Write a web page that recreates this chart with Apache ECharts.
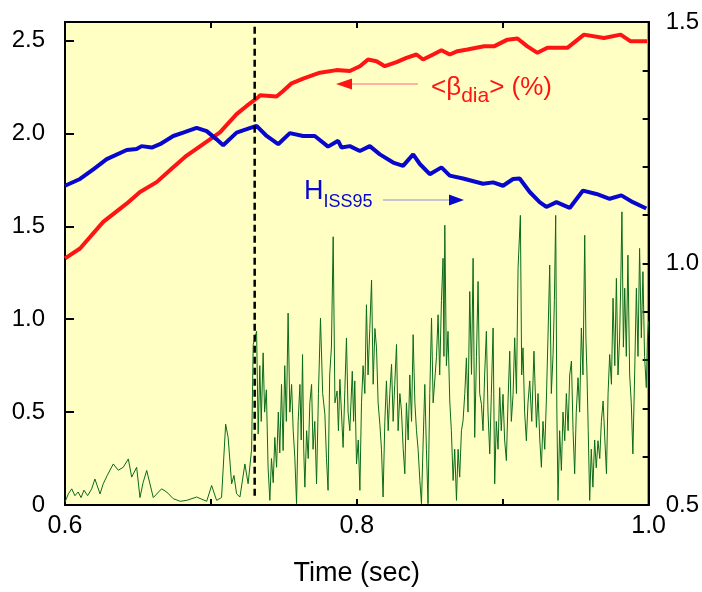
<!DOCTYPE html>
<html><head><meta charset="utf-8">
<script src="https://cdn.jsdelivr.net/npm/echarts@6/dist/echarts.min.js"></script>
<style>html,body{margin:0;padding:0;background:#fff}#c{width:702px;height:592px}</style>
</head><body><div id="c"></div>
<script>
// ---- data ----
const xTicks = [0.6, 0.8, 1.0];
const leftTicks = [0, 0.5, 1.0, 1.5, 2.0, 2.5];
const rightTicks = [0.5, 1.0, 1.5];

const betaT = [0.600,0.6103,0.6262,0.6422,0.6514,0.6628,0.6742,0.6834,0.6947,0.7062,0.7176,0.7245,0.7324,0.7336,0.745,0.7495,0.7553,0.7632,0.7747,0.7861,0.7952,0.8021,0.8077,0.8135,0.8192,0.8272,0.8340,0.8409,0.8454,0.8523,0.8580,0.8637,0.8690,0.8758,0.8872,0.8940,0.9032,0.9101,0.9169,0.9238,0.9306,0.9443,0.9557,0.9694,0.9808,0.9877,0.999];
const betaV = [1.328,1.381,1.524,1.622,1.685,1.738,1.818,1.881,1.943,2.006,2.104,2.148,2.195,2.206,2.199,2.229,2.270,2.295,2.327,2.341,2.336,2.362,2.398,2.389,2.362,2.384,2.407,2.425,2.398,2.425,2.448,2.425,2.443,2.452,2.469,2.469,2.505,2.511,2.469,2.434,2.461,2.461,2.532,2.514,2.532,2.496,2.496];

const hT = [0.600,0.6103,0.6194,0.6286,0.6423,0.6491,0.6525,0.6594,0.6651,0.6742,0.6810,0.6902,0.6971,0.7039,0.7084,0.7176,0.7245,0.7313,0.7382,0.7461,0.7541,0.7632,0.7712,0.7803,0.7872,0.7895,0.7952,0.8021,0.8089,0.8158,0.8249,0.8317,0.8386,0.8432,0.8500,0.8580,0.8637,0.8728,0.8865,0.8934,0.9002,0.9071,0.9116,0.9185,0.9253,0.9299,0.9368,0.9459,0.9550,0.9642,0.9733,0.9813,0.9892,0.9984];
const hV = [1.161,1.175,1.195,1.216,1.235,1.237,1.243,1.240,1.247,1.264,1.271,1.281,1.274,1.257,1.245,1.271,1.278,1.285,1.264,1.247,1.270,1.264,1.264,1.242,1.254,1.240,1.243,1.233,1.243,1.226,1.209,1.202,1.226,1.206,1.185,1.199,1.182,1.176,1.165,1.168,1.161,1.175,1.176,1.148,1.127,1.117,1.127,1.115,1.151,1.144,1.134,1.141,1.127,1.114];

const gT = [0.600,0.6023,0.6046,0.6068,0.609,0.611,0.613,0.6155,0.6183,0.6205,0.624,0.6262,0.629,0.6331,0.6365,0.6399,0.6434,0.6457,0.6491,0.6514,0.6535,0.656,0.6605,0.6662,0.6697,0.6742,0.679,0.6834,0.6902,0.6971,0.7005,0.7039,0.7073,0.7101,0.7118,0.7142,0.7158,0.7176,0.7199,0.7233,0.7255,0.7279,0.729,0.7313,
0.7324,0.7335,0.7345,0.7358,0.7368,0.7380,0.7392,0.7404,0.7415,0.7427,0.7438,0.7450,0.7462,0.7472,0.7484,0.7495,0.7506,0.7517,0.7529,0.7541,0.7553,0.7564,0.7575,0.7587,0.7598,0.7610,0.7619,0.7628,0.7636,0.7644,0.7656,0.7667,0.7678,0.7690,0.7700,0.7712,0.7724,0.7737,0.7751,0.7766,0.7781,0.7792,0.7803,0.7814,0.7826,0.7838,0.7850,0.7865,0.7874,0.7884,0.7906,0.7918,0.7929,0.7940,0.7952,0.7969,0.7978,0.7986,0.7998,0.8010,0.8021,0.8032,0.8043,0.8055,0.8066,0.8077,0.8089,0.8101,0.8112,0.8124,0.8135,0.8146,0.8158,0.8169,0.8180,0.8192,0.8203,0.8215,0.8226,0.8238,0.8249,0.8260,0.8272,0.8283,0.8295,0.8306,0.8318,0.8329,0.8340,0.8352,0.8363,0.8375,0.8386,0.8398,0.8409,0.8420,0.8432,0.8443,0.8455,0.8466,0.8477,0.8488,0.8500,0.8512,0.8523,0.8534,0.8546,0.8557,0.8568,0.8580,0.8591,0.8597,0.8603,0.8614,0.8625,
0.8637,0.8648,0.8660,0.8671,0.8683,0.8694,0.8705,0.8717,0.8728,0.8740,0.8751,0.8762,0.8774,0.8786,0.8797,0.8808,0.8820,0.8831,0.8842,0.8854,0.8865,0.8876,0.8888,0.8899,0.8911,0.8922,0.8934,0.8945,0.8956,0.8968,0.8979,0.8990,0.9002,0.9013,0.9025,0.9036,0.9048,0.9059,0.9071,0.9082,0.9094,0.9105,0.9121,0.9130,0.9139,0.9150,0.9162,0.9173,0.9185,0.9199,0.9214,0.9231,0.9242,0.9254,0.9265,0.9276,0.9288,0.9299,0.9310,0.9322,0.9333,0.9345,0.9354,0.9363,0.9371,0.9379,0.9390,0.9402,0.9413,0.9425,0.9436,0.9448,0.9459,0.9471,0.9482,0.9493,0.9504,0.9516,0.9527,0.9539,0.9550,0.9562,0.9570,0.9577,0.9586,0.9596,0.9607,0.9618,0.9630,0.9641,0.9653,0.9665,0.9676,0.9688,0.9700,0.9711,0.9722,0.9733,0.9745,0.9756,0.9768,0.9779,0.9790,0.9801,0.9809,0.9817,0.9827,0.9836,0.9847,0.9858,0.9870,0.9881,0.9892,0.9904,0.9916,0.9927,0.9938,0.9950,0.9961,0.9972,0.9984,0.9992,1.000];
const gV = [0.016,0.06,0.087,0.05,0.07,0.04,0.08,0.05,0.087,0.14,0.06,0.114,0.16,0.221,0.187,0.203,0.248,0.15,0.203,0.04,0.12,0.186,0.04,0.087,0.07,0.034,0.02,0.025,0.043,0.02,0.105,0.025,0.04,0.435,0.364,0.114,0.159,0.06,0.043,0.221,0.114,0.301,0.864,0.935,
0.382,0.75,0.45,0.819,0.50,0.62,0.20,0.025,0.25,0.12,0.364,0.203,0.50,0.28,0.649,0.293,0.75,0.45,1.033,0.50,0.649,0.40,0.257,0.007,0.45,0.649,0.35,0.81,0.30,0.096,0.40,0.25,0.55,0.649,0.30,0.45,0.114,0.60,1.006,0.60,0.489,0.25,0.079,0.70,0.85,1.444,0.55,0.614,0.40,0.676,0.31,0.62,0.899,0.50,0.40,0.72,0.45,0.668,0.221,0.35,0.079,0.55,0.75,0.60,1.078,0.70,0.95,1.211,0.65,0.95,0.846,0.55,0.435,0.30,0.043,0.45,0.668,0.40,0.60,0.757,0.45,0.65,0.864,0.40,0.60,0.507,0.30,0.168,0.55,0.35,0.70,0.45,0.917,0.55,0.40,0.30,0.132,0.007,0.35,0.649,0.30,0.007,0.60,1.006,0.55,0.668,0.80,1.024,0.70,1.10,1.328,0.80,1.506,0.75,0.935,
0.56,0.40,0.132,0.30,0.025,0.30,0.15,0.40,0.453,0.60,0.792,0.50,1.149,0.703,1.328,0.364,0.80,1.203,0.60,0.542,0.40,0.70,0.935,0.50,0.275,0.60,0.953,0.114,0.45,0.30,0.632,0.40,0.596,0.35,0.239,0.55,0.828,0.45,0.596,0.90,0.60,1.274,1.559,0.70,0.846,0.50,0.346,0.55,0.668,0.45,0.828,0.418,0.60,0.35,0.203,0.45,0.30,0.56,0.90,1.292,0.60,0.81,1.10,1.559,0.50,0.025,0.40,0.186,0.50,0.346,0.60,0.40,0.70,0.775,0.40,0.168,0.50,0.685,0.50,0.953,0.70,1.452,0.90,0.721,0.40,0.025,0.30,0.096,0.35,0.20,0.346,0.25,0.45,0.56,0.35,0.168,0.60,0.81,0.65,1.113,0.75,1.22,0.70,0.899,1.20,1.578,0.85,1.167,0.80,1.345,0.70,0.55,0.275,0.70,1.167,0.80,1.381,0.90,1.256,0.80,0.632,0.90,0.989];

const markerT = [0.73, 0.73];
const markerV = [0.05, 2.6];

const zip = (a, b) => a.map((v, i) => [v, b[i]]);
const FONT = '"Liberation Sans", Arial, sans-serif';

const chart = echarts.init(document.getElementById('c'), null, {renderer: 'canvas'});
const fmt1 = v => (Math.abs(v) < 1e-9 ? '0' : v.toFixed(1));
const isIn = (arr, v) => arr.some(t => Math.abs(t - v) < 1e-6);

chart.setOption({
  animation: false,
  backgroundColor: '#ffffff',
  grid: {left: 65, right: 53, top: 22, bottom: 84, show: true, backgroundColor: '#ffffc4', borderColor: '#000', borderWidth: 2},
  xAxis: [{
    type: 'value', min: 0.6, max: 1.0, interval: 0.1, position: 'bottom',
    name: 'Time (sec)', nameLocation: 'middle', nameGap: 55,
    nameTextStyle: {fontFamily: FONT, fontSize: 27, color: '#000'},
    axisLine: {show: true, onZero: false, lineStyle: {color: '#000', width: 2}},
    axisTick: {show: true, inside: true, length: 6, lineStyle: {color: '#000', width: 2}},
    axisLabel: {fontFamily: FONT, fontSize: 25, color: '#000', margin: 9,
      formatter: v => isIn(xTicks, v) ? v.toFixed(1) : ''},
    splitLine: {show: false}
  }, {
    type: 'value', min: 0.6, max: 1.0, interval: 0.1, position: 'top',
    axisLine: {show: true, onZero: false, lineStyle: {color: '#000', width: 2}},
    axisTick: {show: true, inside: true, length: 6, lineStyle: {color: '#000', width: 2}},
    axisLabel: {show: false}, splitLine: {show: false}
  }],
  yAxis: [{
    type: 'value', min: 0, max: 2.6, interval: 0.5, position: 'left',
    axisLine: {show: true, onZero: false, lineStyle: {color: '#000', width: 2}},
    axisTick: {show: true, inside: true, length: 9, lineStyle: {color: '#000', width: 2}},
    axisLabel: {fontFamily: FONT, fontSize: 24, color: '#000', margin: 20,
      formatter: v => isIn(leftTicks, v) ? fmt1(v) : ''},
    splitLine: {show: false}
  }, {
    type: 'value', min: 0.5, max: 1.5, interval: 0.1, position: 'right',
    axisLine: {show: true, onZero: false, lineStyle: {color: '#000', width: 2}},
    axisTick: {show: true, inside: true, length: 6, lineStyle: {color: '#000', width: 2}},
    axisLabel: {fontFamily: FONT, fontSize: 24, color: '#000', margin: 17,
      formatter: v => isIn(rightTicks, v) ? v.toFixed(1) : ''},
    splitLine: {show: false}
  }],
  series: [
    {type: 'line', name: 'fluct', xAxisIndex: 0, yAxisIndex: 0, data: zip(gT, gV), showSymbol: false,
     lineStyle: {color: '#0b6a1c', width: 1}, z: 2},
    {type: 'line', name: 'beta', xAxisIndex: 0, yAxisIndex: 0, data: zip(betaT, betaV), showSymbol: false,
     lineStyle: {color: '#ff1414', width: 4}, z: 4},
    {type: 'line', name: 'H', xAxisIndex: 0, yAxisIndex: 1, data: zip(hT, hV), showSymbol: false,
     lineStyle: {color: '#0808cc', width: 4}, z: 4},
    {type: 'line', name: 'marker', xAxisIndex: 0, yAxisIndex: 0, data: zip(markerT, markerV), showSymbol: false,
     lineStyle: {color: '#000', width: 2.5, type: [7, 4]}, z: 5}
  ],
  graphic: [
    {type: 'line', shape: {x1: 350, y1: 84, x2: 418, y2: 84}, style: {stroke: '#ff9a9a', lineWidth: 1.5}, z: 10},
    {type: 'polygon', shape: {points: [[336, 84], [352, 78.5], [352, 89.5]]}, style: {fill: '#ff1414'}, z: 10},
    {type: 'text', left: 431, top: 70, z: 10, style: {
      text: '{m|<β}{s|dia}{m|> (%)}', fill: '#ff1414',
      rich: {m: {fontFamily: FONT, fontSize: 26, fill: '#ff1414', verticalAlign: 'top', lineHeight: 28},
             s: {fontFamily: FONT, fontSize: 21, fill: '#ff1414', padding: [16, 0, 0, 0], lineHeight: 28}}}},
    {type: 'line', shape: {x1: 383, y1: 200, x2: 452, y2: 200}, style: {stroke: '#b0b4d4', lineWidth: 1.5}, z: 10},
    {type: 'polygon', shape: {points: [[464, 200], [449, 194.5], [449, 205.5]]}, style: {fill: '#0808cc'}, z: 10},
    {type: 'text', left: 304, top: 173, z: 10, style: {
      text: '{m|H}{s|ISS95}', fill: '#0808cc',
      rich: {m: {fontFamily: FONT, fontSize: 27, fill: '#0808cc', lineHeight: 30},
             s: {fontFamily: FONT, fontSize: 18, fill: '#0808cc', padding: [20, 0, 0, 0], lineHeight: 30}}}}
  ]
});
</script></body></html>
